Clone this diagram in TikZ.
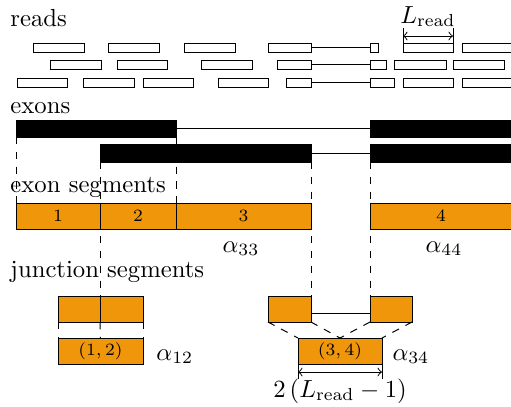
\documentclass[tikz,border=0pt]{standalone}
\usetikzlibrary{calc}
\definecolor{segorange}{RGB}{240,150,10}
\newcommand\bx[7]{\node[#1, minimum width={(#5-#3)*0.405pt}, minimum height={(#6-#4)*0.405pt}] (#2) at ({(#3+#5)/2},{(#4+#6)/2}) {#7};}
\begin{document}
\begin{tikzpicture}[x=0.405pt,y=-0.405pt,
  box/.style={draw=black, inner sep=0pt, outer sep=0pt, line width=0.4pt},
  readbox/.style={box, fill=white},
  exonbar/.style={box, fill=black},
  segbox/.style={box, fill=segorange, font=\scriptsize},
  heading/.style={anchor=base west, inner sep=0pt},
  mathlabel/.style={inner sep=0pt},
  guide/.style={dashed, line width=0.4pt},
  link/.style={line width=0.4pt},
  dimarrow/.style={<->, line width=0.4pt}]
\clip (0,0) rectangle (511,406);

% headings
\node[heading] (hreads) at (10,26) {reads};
\node[heading] (hexons) at (10,113) {exons};
\node[heading] (hsegs) at (10,192) {exon segments};
\node[heading] (hjunc) at (10,277) {junction segments};

% reads row 1
\bx{readbox}{r11}{33}{43}{84}{52}{}
\bx{readbox}{r12}{108}{43}{159}{52}{}
\bx{readbox}{r13}{184}{43}{235}{52}{}
\bx{readbox}{r14}{268}{43}{311}{52}{}
\bx{readbox}{r15}{370}{43}{378}{52}{}
\bx{readbox}{r16}{403}{43}{453}{52}{}
\bx{readbox}{r17}{462}{43}{520}{52}{}
\draw[link] (r14.east) -- (r15.west);
% reads row 2
\bx{readbox}{r21}{50}{60}{101}{69}{}
\bx{readbox}{r22}{117}{60}{167}{69}{}
\bx{readbox}{r23}{201}{60}{252}{69}{}
\bx{readbox}{r24}{277}{60}{311}{69}{}
\bx{readbox}{r25}{370}{60}{386}{69}{}
\bx{readbox}{r26}{394}{60}{446}{69}{}
\bx{readbox}{r27}{453}{60}{504}{69}{}
\draw[link] (r24.east) -- (r25.west);
% reads row 3
\bx{readbox}{r31}{17}{78}{67}{87}{}
\bx{readbox}{r32}{83}{78}{134}{87}{}
\bx{readbox}{r33}{143}{78}{193}{87}{}
\bx{readbox}{r34}{218}{78}{268}{87}{}
\bx{readbox}{r35}{286}{78}{311}{87}{}
\bx{readbox}{r36}{370}{78}{394}{87}{}
\bx{readbox}{r37}{403}{78}{453}{87}{}
\bx{readbox}{r38}{462}{78}{520}{87}{}
\draw[link] (r35.east) -- (r36.west);

% L_read dimension
\coordinate (lrl) at ($(r16.north west)+(0,-15)$);
\coordinate (lrr) at ($(r16.north east)+(0,-15)$);
\draw[link] (r16.north west) -- (lrl);
\draw[link] (r16.north east) -- (lrr);
\draw[dimarrow] ($(r16.north west)+(0,-7)$) -- ($(r16.north east)+(0,-7)$);
\node[mathlabel, anchor=base] (lread) at (428,23) {$L_{\mathrm{read}}$};

% exons
\bx{exonbar}{eA}{16}{120}{176}{137}{}
\bx{exonbar}{eB}{370}{120}{520}{137}{}
\bx{exonbar}{eC}{100}{144}{311}{162}{}
\bx{exonbar}{eD}{370}{144}{520}{162}{}
\draw[link] (eA.east) -- (eB.west);
\draw[link] (eC.east) -- (eD.west);

% junction segment top boxes
\bx{segbox}{j1a}{58}{296}{100}{322}{}
\bx{segbox}{j1b}{100}{296}{143}{322}{}
\bx{segbox}{j3a}{268}{296}{311}{322}{}
\bx{segbox}{j4a}{370}{296}{412}{322}{}
\draw[link] ($(j3a.east)+(0,4)$) -- ($(j4a.west)+(0,4)$);

% guides
\coordinate (gA1) at (eA.south west |- 0,203);
\coordinate (gA2) at (eA.south east |- 0,203);
\draw[guide] (eA.south west) -- (gA1);
\draw[guide] (eA.south east) -- (gA2);
\draw[guide] (eC.south west) -- (j1a.north east);
\draw[guide] (eC.south east) -- (j3a.north east);
\draw[guide] (eD.south west) -- (j4a.north west);

% exon segments
\bx{segbox}{s1}{16}{203}{100}{229}{1}
\bx{segbox}{s2}{100}{203}{176}{229}{2}
\bx{segbox}{s3}{176}{203}{311}{229}{3}
\bx{segbox}{s4}{370}{203}{512}{229}{4}
\node[mathlabel, anchor=base] (a33) at (241,252) {$\alpha_{33}$};
\node[mathlabel, anchor=base] (a44) at (444,252) {$\alpha_{44}$};

% junction segments
\bx{segbox}{J12}{58}{338}{143}{364}{$(1,2)$}
\bx{segbox}{J34}{298}{338}{382}{364}{$(3,4)$}
\draw[guide] (j1a.south west) -- (J12.north west);
\draw[guide] (j1a.south east) -- (J12.north);
\draw[guide] (j1b.south east) -- (J12.north east);
\draw[guide] (j3a.south west) -- (J34.north west);
\draw[guide] (j3a.south east) -- (J34.north);
\draw[guide] (j4a.south west) -- (J34.north);
\draw[guide] (j4a.south east) -- (J34.north east);
\node[mathlabel, anchor=base west] (a12) at (156,360) {$\alpha_{12}$};
\node[mathlabel, anchor=base west] (a34) at (392,360) {$\alpha_{34}$};

% 2(L_read-1) dimension
\coordinate (dl) at ($(J34.south west)+(0,15)$);
\coordinate (dr) at ($(J34.south east)+(0,15)$);
\draw[link] (J34.south west) -- (dl);
\draw[link] (J34.south east) -- (dr);
\draw[dimarrow] ($(J34.south west)+(0,8)$) -- ($(J34.south east)+(0,8)$);
\node[mathlabel, anchor=base] (dimlab) at (340,397) {$2\,(L_{\mathrm{read}}-1)$};
\end{tikzpicture}
\end{document}
